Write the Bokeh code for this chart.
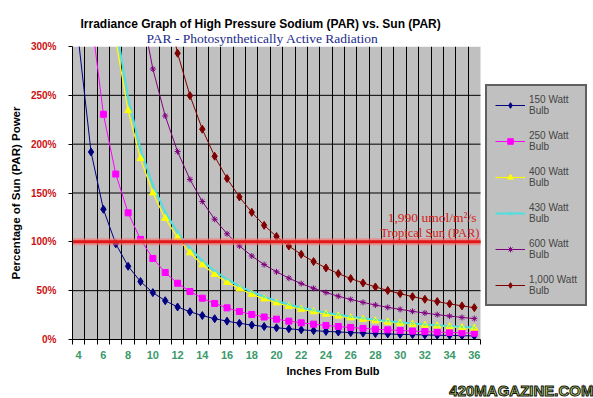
import math
from bokeh.plotting import figure
from bokeh.models import (Range1d, FixedTicker, PrintfTickFormatter, Label, Legend,
                          LegendItem, Title, BoxAnnotation)
from bokeh.embed import file_html
from bokeh.resources import INLINE

# ---------------- data (percentage of tropical sun PAR) ----------------
inches = [4, 5, 6, 7, 8, 9, 10, 11, 12, 13, 14, 15, 16, 17, 18, 19, 20,
          21, 22, 23, 24, 25, 26, 27, 28, 29, 30, 31, 32, 33, 34, 35, 36]

w150 = [305.0, 192.0, 133.3, 98.0, 75.0, 59.3, 48.0, 39.7, 33.3, 28.4, 24.5,
        21.3, 18.8, 16.6, 14.8, 13.3, 12.0, 10.9, 9.9, 9.1, 8.3, 7.7, 7.1,
        6.6, 6.1, 5.7, 5.3, 5.0, 4.7, 4.4, 4.2, 3.9, 3.7]
w250 = [518.8, 332.0, 230.6, 169.4, 129.7, 102.5, 83.0, 68.6, 57.6, 49.1, 42.3,
        36.9, 32.4, 28.7, 25.6, 23.0, 20.8, 18.8, 17.1, 15.7, 14.4, 13.3, 12.3,
        11.4, 10.6, 9.9, 9.2, 8.6, 8.1, 7.6, 7.2, 6.8, 6.4]
w400 = [937.5, 600.0, 416.7, 306.1, 234.4, 185.2, 150.0, 124.0, 104.2, 88.8, 76.5,
        66.7, 58.6, 51.9, 46.3, 41.6, 37.5, 34.0, 31.0, 28.4, 26.0, 24.0, 22.2,
        20.6, 19.1, 17.8, 16.7, 15.6, 14.6, 13.8, 13.0, 12.2, 11.6]
w430 = [987.5, 632.0, 438.9, 322.4, 246.9, 195.1, 158.0, 130.6, 109.7, 93.5, 80.6,
        70.2, 61.7, 54.7, 48.8, 43.8, 39.5, 35.8, 32.6, 29.9, 27.4, 25.3, 23.4,
        21.7, 20.2, 18.8, 17.6, 16.4, 15.4, 14.5, 13.7, 12.9, 12.2]
w600 = [1731.0, 1108.0, 769.4, 565.3, 432.8, 342.0, 277.0, 228.9, 192.4, 163.9, 141.3,
        123.1, 108.2, 95.8, 85.5, 76.7, 69.3, 62.8, 57.2, 52.4, 48.1, 44.3, 41.0,
        38.0, 35.3, 32.9, 30.8, 28.8, 27.1, 25.4, 24.0, 22.6, 21.4]
w1000 = [2637.0, 1688.0, 1172.0, 861.0, 659.0, 521.0, 422.0, 348.8, 293.1, 249.7, 215.3,
         187.6, 164.8, 146.0, 130.2, 116.9, 105.5, 95.7, 87.2, 79.8, 73.3, 67.5, 62.4,
         57.9, 53.8, 50.2, 46.9, 43.9, 41.2, 38.8, 36.5, 34.4, 32.6]

series_labels = ["150 Watt\nBulb", "250 Watt\nBulb", "400 Watt\nBulb",
                 "430 Watt\nBulb", "600 Watt\nBulb", "1,000 Watt\nBulb"]

x_tick_values = [4, 6, 8, 10, 12, 14, 16, 18, 20, 22, 24, 26, 28, 30, 32, 34, 36]
y_tick_values = [0, 50, 100, 150, 200, 250, 300]
sun_level = 100

title_text = "Irradiance Graph of High Pressure Sodium (PAR) vs. Sun (PAR)"
subtitle_text = "PAR - Photosynthetically Active Radiation"
x_title = "Inches From Bulb"
y_title = "Percentage of Sun (PAR) Power"
sun_text_1 = "1,990 umol/m\u00b2/s"
sun_text_2 = "Tropical Sun (PAR)"
watermark_text = "420MAGAZINE.COM"

# ---------------- figure ----------------
# the frame reaches the right edge; the chart itself occupies categories 3.5..36.5,
# the rest of the frame holds the legend.
x_lo, x_hi = inches[0] - 0.5, inches[-1] + 0.5
px_per_cat = 408 / (x_hi - x_lo)
frame_w = 593 - 72
p = figure(width=593, height=398,
           min_border_left=72, min_border_right=0, min_border_top=46, min_border_bottom=58,
           x_range=Range1d(x_lo, x_lo + frame_w / px_per_cat), y_range=Range1d(0, 300),
           output_backend="svg", toolbar_location=None)
p.background_fill_color = "white"
p.border_fill_color = "white"
p.outline_line_color = None

# grey plot area
p.add_layout(BoxAnnotation(left=x_lo, right=x_hi, bottom=y_tick_values[0], top=y_tick_values[-1],
                           fill_color="#c0c0c0", fill_alpha=1.0, line_color=None, level="image"))

# titles (sub-title first: later 'above' items stack further out)
p.add_layout(Title(text=subtitle_text, align="left", offset=74, standoff=1,
                   text_font="Liberation Serif", text_font_size="13.5px",
                   text_font_style="normal", text_color="#1a2a8a"), "above")
p.add_layout(Title(text=title_text, align="left", offset=8, standoff=-4,
                   text_font="Liberation Sans", text_font_size="12px",
                   text_font_style="bold", text_color="black"), "above")

# x axis: ticks between categories, labels on even categories
boundaries = [c + 0.5 for c in inches[:-1]]
xa = p.xaxis[0]
xa.bounds = (x_lo, x_hi)
xa.ticker = FixedTicker(ticks=x_tick_values, minor_ticks=[x_lo] + boundaries + [x_hi])
xa.major_tick_in = 0
xa.major_tick_out = 0
xa.minor_tick_in = 0
xa.minor_tick_out = 5
xa.minor_tick_line_color = "black"
xa.axis_line_color = "black"
xa.major_label_text_font = "Liberation Sans"
xa.major_label_text_font_size = "11px"
xa.major_label_text_font_style = "bold"
xa.major_label_text_color = "#3a9a6a"
xa.major_label_standoff = 6
xa.axis_label = x_title
xa.axis_label_text_font = "Liberation Sans"
xa.axis_label_text_font_size = "11px"
xa.axis_label_text_font_style = "bold"
xa.axis_label_text_color = "black"
xa.axis_label_standoff = 3

ya = p.yaxis[0]
ya.ticker = FixedTicker(ticks=y_tick_values)
ya.formatter = PrintfTickFormatter(format="%d%%")
ya.major_tick_in = 0
ya.major_tick_out = 4
ya.minor_tick_out = 0
ya.minor_tick_in = 0
ya.major_tick_line_color = "black"
ya.axis_line_color = "black"
ya.major_label_text_font = "Liberation Sans"
ya.major_label_text_font_size = "10px"
ya.major_label_text_font_style = "bold"
ya.major_label_text_color = "#cc1010"
ya.major_label_standoff = 12
ya.axis_label = y_title
ya.axis_label_text_font = "Liberation Sans"
ya.axis_label_text_font_size = "11.5px"
ya.axis_label_text_font_style = "bold"
ya.axis_label_text_color = "black"
ya.axis_label_standoff = 6

p.xgrid.ticker = FixedTicker(ticks=boundaries)
p.xgrid.grid_line_color = "black"
p.xgrid.grid_line_alpha = 1.0
p.ygrid.visible = False
# horizontal grid lines limited to the plot area
inner_y = y_tick_values[1:-1]
p.segment(x0=[x_lo] * len(inner_y), x1=[x_hi] * len(inner_y), y0=inner_y, y1=inner_y,
          line_color="black", line_width=1)

# ---------------- series ----------------
styles = [
    dict(color="#000080", width=1, marker="diamond", size=8, fill="#000080"),
    dict(color="#ff00ff", width=1, marker="square", size=6, fill="#ff00ff"),
    dict(color="#ffff00", width=1.2, marker="triangle", size=7, fill="#ffff00"),
    dict(color="#4de0e0", width=2, marker="x", size=4, fill="#4de0e0"),
    dict(color="#800080", width=1, marker="asterisk", size=6, fill="#800080"),
    dict(color="#800000", width=1, marker="diamond", size=8, fill="#800000"),
]
all_series = [w150, w250, w400, w430, w600, w1000]

line_rs = []
for vals, st in zip(all_series, styles):
    line_rs.append(p.line(inches, vals, line_color=st["color"], line_width=st["width"]))
marker_rs = []
for vals, st in zip(all_series, styles):
    marker_rs.append(p.scatter(inches, vals, marker=st["marker"], size=st["size"],
                               fill_color=st["fill"], line_color=st["color"], line_width=1))

# 100% tropical sun line (only across the plot area)
p.segment(x0=[x_lo], x1=[x_hi], y0=[sun_level], y1=[sun_level],
          line_color="#ff7070", line_alpha=0.6, line_width=7)
p.segment(x0=[x_lo], x1=[x_hi], y0=[sun_level], y1=[sun_level],
          line_color="#e01818", line_width=3)

p.add_layout(Label(x=404, y=122, x_units="screen", y_units="screen", text=sun_text_1,
                   text_font="Liberation Serif", text_font_size="13.5px", text_color="#d42020",
                   text_align="right", text_baseline="middle"))
p.add_layout(Label(x=407, y=107, x_units="screen", y_units="screen", text=sun_text_2,
                   text_font="Liberation Serif", text_font_size="12.5px", text_color="#d42020",
                   text_align="right", text_baseline="middle"))

# ---------------- legend (inside the wide frame, right of the plot area) ----------------
items = [LegendItem(label=lab, renderers=[lr, mr])
         for lab, lr, mr in zip(series_labels, line_rs, marker_rs)]
legend = Legend(items=items, location=(413, 33), orientation="vertical",
                margin=0, padding=8, spacing=14, glyph_width=30, glyph_height=14,
                label_standoff=4, label_text_font="Liberation Sans",
                label_text_font_size="10px",
                background_fill_color="#c0c0c0", background_fill_alpha=1.0,
                border_line_color="black", border_line_width=2.5)
p.add_layout(legend)

# ---------------- watermark ----------------
wm = dict(text=watermark_text, align="right", standoff=0, offset=0,
          text_font="Liberation Sans", text_font_size="15px", text_font_style="bold",
          text_color="#b8dc6a")
if "text_outline_color" in Title.properties():
    wm["text_outline_color"] = "#111111"
p.add_layout(Title(**wm), "below")

open("out.html", "w").write(file_html(p, INLINE))
